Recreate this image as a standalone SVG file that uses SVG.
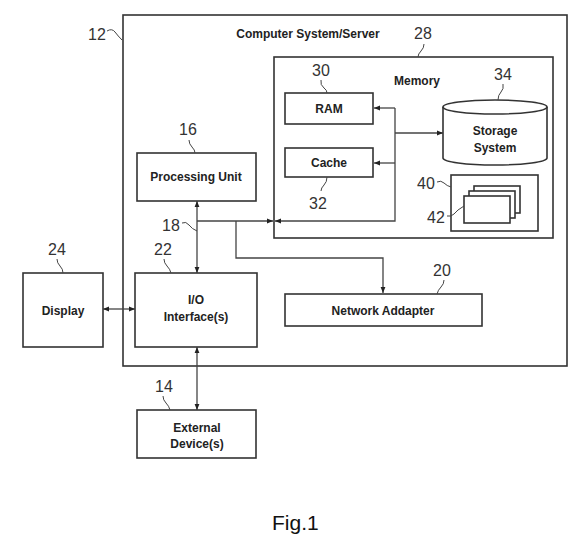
<svg xmlns="http://www.w3.org/2000/svg" width="581" height="540" viewBox="0 0 581 540">
<defs>
<marker id="ah" viewBox="0 0 10 10" refX="10" refY="5" markerWidth="6" markerHeight="6" markerUnits="userSpaceOnUse" orient="auto-start-reverse">
<path d="M0,1 L10,5 L0,9 Z" fill="#222"/>
</marker>
<style>
.box{fill:#fff;stroke:#333;stroke-width:1.6}
.ln{fill:none;stroke:#444;stroke-width:1.3}
.ld{fill:none;stroke:#444;stroke-width:1}
.t{font-family:"Liberation Sans",Arial,sans-serif;font-size:12px;font-weight:bold;fill:#222;text-anchor:middle}
.n{font-family:"Liberation Sans",Arial,sans-serif;font-size:16px;fill:#333;text-anchor:middle}
</style>
</defs>
<rect width="581" height="540" fill="#fff"/>

<g id="server">
<rect class="box" x="123" y="15" width="444" height="351"/>
<text class="t" x="308" y="38">Computer System/Server</text>
<text class="n" x="97" y="40">12</text>
<path class="ld" d="M107,31 q5,-3 8,1 q3,4 7,8"/>
</g>

<g id="memory">
<rect class="box" x="274" y="57" width="279" height="181"/>
<text class="t" x="417" y="85">Memory</text>
<text class="n" x="423" y="39">28</text>
<path class="ld" d="M424,44 q0,4 -3,7 q-3,3 -3,6"/>
</g>

<g id="ram">
<rect class="box" x="285" y="93" width="88" height="31"/>
<text class="t" x="329" y="113">RAM</text>
<text class="n" x="321" y="76">30</text>
<path class="ld" d="M321,80 q-1,5 3,8 q3,2 3,5"/>
</g>

<g id="cache">
<rect class="box" x="285" y="148" width="88" height="29"/>
<text class="t" x="329" y="167">Cache</text>
<text class="n" x="318" y="209">32</text>
<path class="ld" d="M327,177 q0,5 -3,8 q-3,3 -3,6"/>
</g>

<g id="storage">
<path class="box" d="M443,107 V158 A52,7 0 0 0 547,158 V107"/>
<ellipse class="box" cx="495" cy="107" rx="52" ry="7"/>
<text class="t" x="495" y="135">Storage</text>
<text class="t" x="495" y="152">System</text>
<text class="n" x="503" y="80">34</text>
<path class="ld" d="M503,84 q1,5 -2,8 q-3,3 -3,8"/>
</g>

<g id="programs">
<rect class="box" x="451" y="175" width="87" height="56"/>
<rect class="box" x="474" y="186" width="46" height="27"/>
<rect class="box" x="469" y="191" width="46" height="27"/>
<rect class="box" x="464" y="196" width="46" height="27"/>
<text class="n" x="426" y="189">40</text>
<path class="ld" d="M437,182 q4,-2 7,1 q3,3 7,4"/>
<text class="n" x="436" y="223">42</text>
<path class="ld" d="M447,216 q4,1 7,-2 q3,-4 10,-8"/>
</g>

<g id="processing">
<rect class="box" x="137" y="153" width="119" height="48"/>
<text class="t" x="196" y="181">Processing Unit</text>
<text class="n" x="188" y="135">16</text>
<path class="ld" d="M189,140 q0,4 3,7 q3,3 3,6"/>
</g>

<g id="bus">
<text class="n" x="171" y="231">18</text>
<path class="ld" d="M182,223 q4,-2 7,2 q3,4 8,6"/>
</g>

<g id="io">
<rect class="box" x="135" y="273" width="122" height="74"/>
<text class="t" x="196" y="304">I/O</text>
<text class="t" x="196" y="321">Interface(s)</text>
<text class="n" x="163" y="255">22</text>
<path class="ld" d="M164,259 q0,4 3,7 q3,3 4,7"/>
</g>

<g id="display">
<rect class="box" x="23" y="273" width="80" height="74"/>
<text class="t" x="63" y="315">Display</text>
<text class="n" x="57" y="255">24</text>
<path class="ld" d="M57,259 q0,4 3,7 q3,3 3,7"/>
</g>

<g id="external">
<rect class="box" x="137" y="410" width="119" height="48"/>
<text class="t" x="197" y="432">External</text>
<text class="t" x="197" y="448">Device(s)</text>
<text class="n" x="164" y="392">14</text>
<path class="ld" d="M163,396 q0,4 3,7 q3,3 4,7"/>
</g>

<g id="network">
<rect class="box" x="285" y="294" width="197" height="32"/>
<text class="t" x="383" y="315">Network Addapter</text>
<text class="n" x="442" y="276">20</text>
<path class="ld" d="M444,280 q0,4 -3,7 q-3,3 -4,7"/>
</g>

<g id="connectors">
<line class="ln" x1="197" y1="201" x2="197" y2="273" marker-start="url(#ah)" marker-end="url(#ah)"/>
<line class="ln" x1="197" y1="221" x2="273" y2="221" marker-end="url(#ah)"/>
<path class="ln" d="M395,108 V221 H275" marker-end="url(#ah)"/>
<line class="ln" x1="395" y1="108" x2="374" y2="108" marker-end="url(#ah)"/>
<line class="ln" x1="395" y1="163" x2="374" y2="163" marker-end="url(#ah)"/>
<line class="ln" x1="395" y1="133" x2="443" y2="133" marker-end="url(#ah)"/>
<path class="ln" d="M236,221 V258 H383 V293" marker-end="url(#ah)"/>
<line class="ln" x1="103" y1="309" x2="135" y2="309" marker-start="url(#ah)" marker-end="url(#ah)"/>
<line class="ln" x1="197" y1="347" x2="197" y2="410" marker-start="url(#ah)" marker-end="url(#ah)"/>
</g>

<text x="272" y="530" font-family="Liberation Sans, Arial, sans-serif" font-size="21" fill="#111">Fig.1</text>
</svg>
